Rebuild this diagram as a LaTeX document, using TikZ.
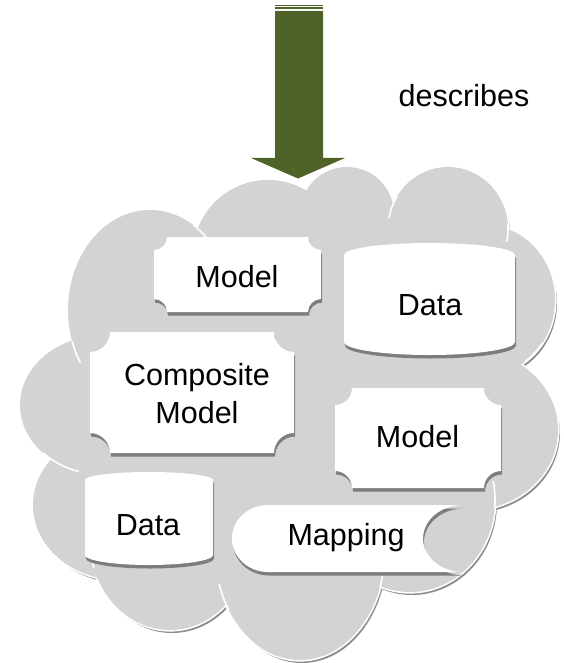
\documentclass[tikz,border=0pt]{standalone}
\usepackage{fontspec}
\setmainfont{Liberation Sans}
\definecolor{cloudfill}{RGB}{211,211,211}
\definecolor{cloudshadow}{RGB}{140,140,140}
\definecolor{boxshadow}{RGB}{125,125,125}
\definecolor{arrowolive}{RGB}{79,98,40}
\tikzset{
  lbl/.style={font=\fontsize{30.5}{36}\selectfont, inner sep=0pt, text=black},
  innerline/.style={white, line width=1.6pt},
  boxshade/.style={fill=boxshadow},
  boxface/.style={fill=white},
}
\newcommand\cloudparts[1]{%
  \foreach \cx/\cy/\rx/\ry in {150/310/82/100, 268/255/75/75, 347/214/47/47,
      448/229/60/62, 485/300/70/75, 470/430/88/80, 410/500/85/92,
      300/550/85/110, 170/540/80/90, 120/505/87/75, 105/405/85/70}
    {\path[#1] (\cx,\cy) ellipse [x radius=\rx, y radius=\ry];}
  \path[#1] (120,235) rectangle (470,560);
}
\newcommand\innerarc[6]{%
  \draw[innerline, shift={(#1,#2)}] (#5:#3 and #4) arc[start angle=#5, end angle=#6, x radius=#3, y radius=#4];}
\newcommand\plaque[5]{%
  \fill[boxshade, shift={(1,3.5)}] (#1+#5,#2) -- (#3-#5,#2) arc[start angle=180,end angle=90,radius=#5]
    -- (#3,#4-#5) arc[start angle=270,end angle=180,radius=#5]
    -- (#1+#5,#4) arc[start angle=0,end angle=-90,radius=#5]
    -- (#1,#2+#5) arc[start angle=90,end angle=0,radius=#5] -- cycle;
  \fill[boxface] (#1+#5,#2) -- (#3-#5,#2) arc[start angle=180,end angle=90,radius=#5]
    -- (#3,#4-#5) arc[start angle=270,end angle=180,radius=#5]
    -- (#1+#5,#4) arc[start angle=0,end angle=-90,radius=#5]
    -- (#1,#2+#5) arc[start angle=90,end angle=0,radius=#5] -- cycle;}
\newcommand\datacan[6]{%
  \fill[boxshade, shift={(1,3.5)}] (#1,#5) -- (#1,#3) arc[start angle=180,end angle=360,x radius={(#2-#1)/2},y radius=#4]
    -- (#2,#5) arc[start angle=0,end angle=180,x radius={(#2-#1)/2},y radius=#6] -- cycle;
  \fill[boxface] (#1,#5) -- (#1,#3) arc[start angle=180,end angle=360,x radius={(#2-#1)/2},y radius=#4]
    -- (#2,#5) arc[start angle=0,end angle=180,x radius={(#2-#1)/2},y radius=#6] -- cycle;}
\begin{document}
\begin{tikzpicture}[x=1pt, y=-1pt]
\useasboundingbox (0,0) rectangle (564,663);
% cloud
\begin{scope}[shift={(2,3)}]
  \cloudparts{fill=cloudshadow}
\end{scope}
\cloudparts{draw=white, line width=3.2pt}
\cloudparts{fill=cloudfill}
\innerarc{150}{310}{82}{100}{148}{162}
\innerarc{150}{310}{82}{100}{-58}{-42}
\innerarc{448}{229}{60}{62}{190}{212}
\innerarc{448}{229}{60}{62}{-5}{12}
\innerarc{485}{300}{70}{75}{35}{55}
\innerarc{410}{500}{85}{92}{-12}{5}
\innerarc{300}{550}{85}{110}{-3}{20}
\innerarc{300}{550}{85}{110}{147}{162}
\innerarc{170}{540}{80}{90}{162}{178}
\innerarc{105}{405}{85}{70}{108}{137}
% shapes
\plaque{154}{237}{321}{312}{13}
\datacan{344}{515}{255}{12}{342}{13}
\plaque{90}{332}{294}{453}{20}
\plaque{335}{388}{501}{488}{17}
\datacan{85}{213}{480}{8}{555}{10}
\fill[boxshade, shift={(1,3.5)}] (268,505) arc[start angle=270,end angle=90,x radius=36,y radius=33.5]
  -- (463,572) arc[start angle=90,end angle=270,x radius=40,y radius=33.5] -- cycle;
\fill[boxface] (268,505) arc[start angle=270,end angle=90,x radius=36,y radius=33.5]
  -- (463,572) arc[start angle=90,end angle=270,x radius=40,y radius=33.5] -- cycle;
% labels
\node[lbl, anchor=base] (model1) at (237,287) {Model};
\node[lbl, anchor=base] (data1) at (430,315) {Data};
\node[lbl, anchor=base] (comp1) at (197,385) {Composite};
\node[lbl, anchor=base] (comp2) at (197,423) {Model};
\node[lbl, anchor=base] (model2) at (417.5,447) {Model};
\node[lbl, anchor=base] (data2) at (148,535) {Data};
\node[lbl, anchor=base] (mapping) at (346,545) {Mapping};
% arrow
\fill[arrowolive] (275,4.8) rectangle (323,6.3);
\fill[arrowolive] (275,7.3) rectangle (323,8.7);
\fill[arrowolive] (275,11) -- (323,11) -- (323,158) -- (345,158) -- (298,178.5)
  -- (251,158) -- (275,158) -- cycle;
\node[lbl, anchor=base] (desc) at (464,107) {describes};
\end{tikzpicture}
\end{document}
